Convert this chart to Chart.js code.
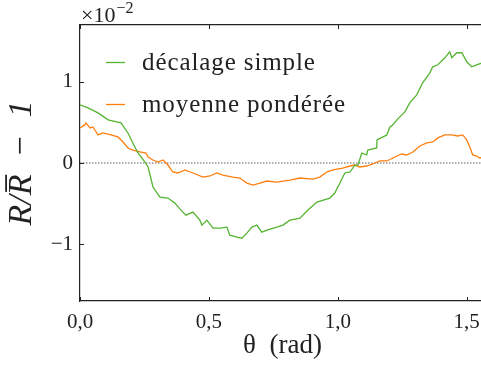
<!DOCTYPE html>
<html><head><meta charset="utf-8">
<script src="https://cdn.jsdelivr.net/npm/chart.js@4/dist/chart.umd.min.js"></script>
<style>html,body{margin:0;padding:0;overflow:hidden;background:#fff}</style>
</head><body>
<canvas id="c" width="490" height="365"></canvas>
<script>
// ---- data (y in units of 1e-2) ----
const seriesLabels = ['décalage simple', 'moyenne pondérée'];
const seriesColors = ['#55b432', '#ff7f0e'];
const thetaGreen = [0,0.031,0.070,0.109,0.159,0.186,0.205,0.225,0.252,0.264,0.283,0.310,0.341,0.368,0.388,0.411,0.438,0.465,0.473,0.492,0.516,0.543,0.570,0.581,0.609,0.628,0.647,0.667,0.686,0.705,0.725,0.764,0.787,0.814,0.853,0.884,0.919,0.969,0.988,1.008,1.027,1.047,1.066,1.078,1.093,1.112,1.116,1.151,1.152,1.190,1.202,1.213,1.229,1.260,1.279,1.306,1.329,1.357,1.368,1.388,1.415,1.434,1.442,1.461,1.481,1.500,1.519,1.539,1.570];
const valGreen = [0.716,0.679,0.617,0.531,0.494,0.370,0.247,0.123,0.012,-0.049,-0.296,-0.420,-0.432,-0.494,-0.568,-0.642,-0.605,-0.704,-0.765,-0.704,-0.802,-0.802,-0.790,-0.889,-0.914,-0.926,-0.864,-0.790,-0.765,-0.852,-0.827,-0.790,-0.765,-0.704,-0.679,-0.580,-0.481,-0.432,-0.370,-0.247,-0.123,-0.111,-0.025,-0.025,0.123,0.099,0.160,0.185,0.284,0.346,0.444,0.469,0.531,0.630,0.741,0.840,0.988,1.111,1.185,1.210,1.296,1.370,1.296,1.358,1.358,1.247,1.185,1.210,1.247];
const thetaOrange = [0,0.019,0.023,0.039,0.050,0.070,0.089,0.120,0.147,0.167,0.186,0.205,0.233,0.256,0.264,0.283,0.302,0.322,0.341,0.360,0.380,0.407,0.438,0.477,0.504,0.531,0.554,0.593,0.620,0.647,0.671,0.698,0.725,0.764,0.787,0.814,0.853,0.903,0.930,0.957,0.981,1.019,1.047,1.066,1.085,1.112,1.136,1.163,1.190,1.221,1.248,1.267,1.291,1.318,1.345,1.368,1.388,1.415,1.442,1.465,1.484,1.500,1.512,1.523,1.539,1.550,1.570];
const valOrange = [0.432,0.469,0.494,0.432,0.444,0.346,0.370,0.346,0.321,0.259,0.185,0.160,0.136,0.123,0.074,0.037,0.012,0.037,-0.025,-0.111,-0.123,-0.086,-0.123,-0.173,-0.160,-0.123,-0.148,-0.173,-0.185,-0.247,-0.272,-0.247,-0.222,-0.235,-0.222,-0.210,-0.185,-0.198,-0.173,-0.111,-0.086,-0.062,-0.037,-0.025,-0.049,-0.037,-0.012,0.025,0.025,0.074,0.111,0.099,0.136,0.210,0.247,0.259,0.309,0.346,0.346,0.333,0.346,0.284,0.198,0.099,0.086,0.062,0.074];
const xTickValues = [0, 0.5, 1.0, 1.5];
const xTickLabels = ['0,0', '0,5', '1,0', '1,5'];
const yTickValues = [-1, 0, 1];
const yTickLabels = ['\u22121', '0', '1'];
const xRange = [0, Math.PI / 2];
const yRange = [-1.7, 1.7];
const zeroLine = [0, 0];

const FONT = "'Liberation Serif', 'DejaVu Serif', serif";
const toPts = (xs, ys) => xs.map((v, i) => ({x: v, y: ys[i]}));

const extras = {
  id: 'extras',
  afterDraw(chart) {
    const {ctx, chartArea: a, scales: {x, y}} = chart;
    ctx.save();
    ctx.strokeStyle = '#222';
    ctx.lineWidth = 1;
    ctx.beginPath();
    xTickValues.forEach(v => {
      const px = Math.round(x.getPixelForValue(v)) + 0.5;
      ctx.moveTo(px, a.bottom); ctx.lineTo(px, a.bottom - 4);
      ctx.moveTo(px, a.top); ctx.lineTo(px, a.top + 4);
    });
    yTickValues.forEach(v => {
      const py = Math.round(y.getPixelForValue(v)) + 0.5;
      ctx.moveTo(a.left, py); ctx.lineTo(a.left + 4, py);
    });
    ctx.stroke();
    // legend inside the plot
    ctx.font = '25px ' + FONT;
    if ('letterSpacing' in ctx) ctx.letterSpacing = '0.9px';
    ctx.textBaseline = 'middle';
    ctx.fillStyle = '#222';
    seriesLabels.forEach((lab, i) => {
      const cy = 62 + i * 42;
      ctx.strokeStyle = seriesColors[i];
      ctx.lineWidth = 1.3;
      ctx.beginPath(); ctx.moveTo(a.left + 26, cy + 0.5); ctx.lineTo(a.left + 45, cy + 0.5); ctx.stroke();
      ctx.fillText(lab, a.left + 62, cy + 1);
    });
    // multiplier ×10^-2
    if ('letterSpacing' in ctx) ctx.letterSpacing = '0px';
    ctx.textBaseline = 'alphabetic';
    ctx.font = '22px ' + FONT;
    ctx.fillText('\u00d710', a.left + 1, 22);
    const w = ctx.measureText('\u00d710').width;
    ctx.font = '16px ' + FONT;
    ctx.fillText('\u22122', a.left + 2 + w, 13);
    ctx.restore();
  }
};

new Chart(document.getElementById('c'), {
  type: 'line',
  data: {
    datasets: [
      {label: seriesLabels[0], data: toPts(thetaGreen, valGreen), borderColor: seriesColors[0], borderWidth: 1.3, pointRadius: 0, tension: 0, fill: false},
      {label: seriesLabels[1], data: toPts(thetaOrange, valOrange), borderColor: seriesColors[1], borderWidth: 1.3, pointRadius: 0, tension: 0, fill: false},
      {label: 'zero', data: toPts(xRange, zeroLine), borderColor: '#333', borderWidth: 0.8, borderDash: [1.5, 1.5], pointRadius: 0}
    ]
  },
  options: {
    responsive: false,
    animation: false,
    layout: {padding: {left: 0, right: 5, top: 0, bottom: 0}},
    plugins: {legend: {display: false}, tooltip: {enabled: false}},
    scales: {
      x: {
        type: 'linear', min: xRange[0], max: xRange[1],
        afterBuildTicks: s => { s.ticks = xTickValues.map(v => ({value: v})); },
        afterFit: s => { s.height = 64; },
        grid: {display: false, drawTicks: false},
        border: {display: true, color: '#222', width: 1.2},
        ticks: {padding: 9, color: '#222', font: {family: FONT, size: 21}, maxRotation: 0,
          callback: (v, i) => xTickLabels[i]},
        title: {display: true, text: '\u03b8  (rad)', color: '#222', font: {family: FONT, size: 27}, padding: {top: 0, bottom: 3}}
      },
      xTop: {
        type: 'linear', position: 'top', min: xRange[0], max: xRange[1],
        afterFit: s => { s.height = 25; },
        grid: {display: false, drawTicks: false},
        border: {display: true, color: '#222', width: 1.2},
        ticks: {display: false}
      },
      y: {
        type: 'linear', min: yRange[0], max: yRange[1],
        afterBuildTicks: s => { s.ticks = yTickValues.map(v => ({value: v})); },
        afterFit: s => { s.width = 80; },
        grid: {display: false, drawTicks: false},
        border: {display: true, color: '#222', width: 1.2},
        ticks: {padding: 7, color: '#222', font: {family: FONT, size: 21},
          callback: (v, i) => yTickLabels[i]},
        title: {display: true, text: 'R/R\u0305\u2002\u2212\u20021', color: '#222', font: {family: FONT, size: 34, style: 'italic'}, padding: {top: 2, bottom: 0}}
      }
    }
  },
  plugins: [extras]
});
</script>
</body></html>
